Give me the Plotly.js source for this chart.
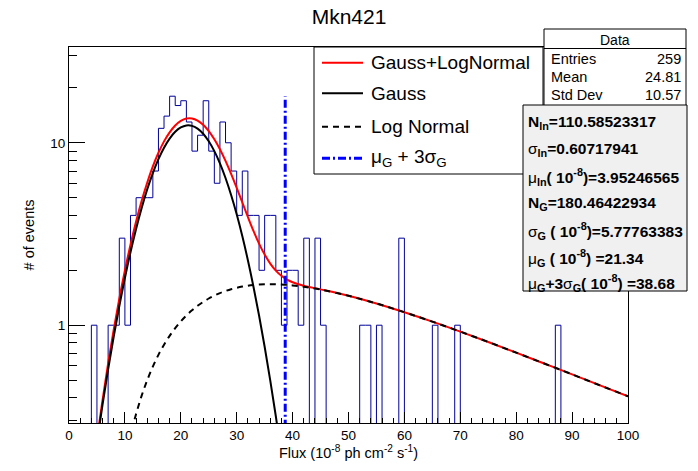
<!DOCTYPE html>
<html>
<head>
<meta charset="utf-8">
<script src="https://cdn.plot.ly/plotly-3.0.1.min.js"></script>
<style>
body { margin: 0; background: #fff; }
#chart { width: 698px; height: 471px; }
</style>
</head>
<body>
<div id="chart"></div>
<script>
// histogram counts, one bin per unit of flux, bins 0-1 ... 99-100
var counts = [
  0, 0, 0, 0, 1, 0, 0, 1, 1, 3,
  1, 4, 5, 5, 5, 7, 12, 14, 18, 16,
  17, 13, 9, 11, 17, 9, 6, 13, 10, 7,
  4, 7, 4, 4, 2, 4, 4, 2, 1, 2,
  2, 1, 3, 0, 3, 1, 0, 0, 0, 0,
  0, 0, 1, 1, 0, 1, 0, 0, 0, 3,
  0, 0, 0, 0, 0, 1, 0, 0, 0, 1,
  0, 0, 0, 0, 0, 0, 0, 0, 0, 0,
  0, 0, 0, 0, 0, 0, 0, 1, 0, 0,
  0, 0, 0, 0, 0, 0, 0, 0, 0, 0
];

// fitted curves
var gaussX = [4, 5, 6, 7, 8, 9, 10, 11, 12, 13, 14, 15, 16, 17, 18, 19, 20, 21,
  22, 23, 24, 25, 26, 27, 28, 29, 30, 31, 32, 33, 34, 35, 36, 37, 38, 39];
var gaussY = [0.138, 0.228, 0.367, 0.573, 0.867, 1.273, 1.816, 2.513, 3.373, 4.396,
  5.560, 6.824, 8.129, 9.397, 10.54, 11.48, 12.13, 12.44, 12.38, 11.96, 11.21,
  10.19, 9.001, 7.712, 6.412, 5.174, 4.053, 3.080, 2.272, 1.626, 1.130, 0.762,
  0.499, 0.317, 0.195, 0.117];

var lognX = [8, 9, 10, 11, 12, 13, 14, 15, 16, 17, 18, 19, 20, 21, 22, 23, 24, 25,
  26, 27, 28, 29, 30, 31, 32, 33, 34, 35, 36, 37, 38, 39, 40, 42, 45, 50, 55,
  60, 65, 70, 75, 80, 85, 90, 95, 100];
var lognY = [0.078, 0.124, 0.181, 0.249, 0.326, 0.411, 0.500, 0.593, 0.688, 0.782,
  0.874, 0.964, 1.050, 1.131, 1.207, 1.278, 1.342, 1.401, 1.453, 1.500, 1.540,
  1.575, 1.604, 1.628, 1.647, 1.661, 1.671, 1.676, 1.678, 1.676, 1.672, 1.664,
  1.653, 1.625, 1.569, 1.450, 1.316, 1.178, 1.046, 0.922, 0.809, 0.707, 0.617,
  0.538, 0.468, 0.408];

var totalX = [5, 6, 7, 8, 9, 10, 11, 12, 13, 14, 15, 16, 17, 18, 19, 20, 21, 22,
  23, 24, 25, 26, 27, 28, 29, 30, 31, 32, 33, 34, 35, 36, 37, 38, 39, 40, 42,
  45, 50, 55, 60, 65, 70, 75, 80, 85, 90, 95, 100];
var totalY = [0.237, 0.389, 0.617, 0.945, 1.397, 1.997, 2.762, 3.699, 4.807, 6.060,
  7.417, 8.817, 10.18, 11.41, 12.44, 13.18, 13.57, 13.59, 13.24, 12.55, 11.59,
  10.45, 9.212, 7.952, 6.749, 5.657, 4.708, 3.919, 3.287, 2.801, 2.438, 2.177,
  1.993, 1.867, 1.780, 1.721, 1.646, 1.572, 1.450, 1.316, 1.178, 1.046, 0.922,
  0.809, 0.707, 0.617, 0.538, 0.468, 0.408];

var muPlus3Sigma = 38.68;

var statNames = ['Entries', 'Mean', 'Std Dev'];
var statValues = ['259', '24.81', '10.57'];

// greek letters are drawn in plain weight, the rest in bold
var fitLines = [
  '<b>N<sub>ln</sub>=110.58523317</b>',
  '\u03c3<b><sub>ln</sub>=0.60717941</b>',
  '\u03bc<b><sub>ln</sub>( 10<sup>-8</sup>)=3.95246565</b>',
  '<b>N<sub>G</sub>=180.46422934</b>',
  '\u03c3<b><sub>G</sub> ( 10<sup>-8</sup>)=5.77763383</b>',
  '\u03bc<b><sub>G</sub> ( 10<sup>-8</sup>) =21.34</b>',
  '\u03bc<b><sub>G</sub>+3</b>\u03c3<b><sub>G</sub>( 10<sup>-8</sup>) =38.68</b>'
];

var legendNames = ['Gauss+LogNormal', 'Gauss', 'Log Normal',
  '\u03bc<sub>G</sub> + 3\u03c3<sub>G</sub>'];

// page geometry
var ML = 69, MT = 47, PW = 559, PH = 376;
function px(x) { return (x - ML) / PW; }
function py(y) { return (MT + PH - y) / PH; }

var FONT = 'Liberation Sans, Arial, Helvetica, sans-serif';
var FLOOR = 0.1; // empty bins are drawn below the frame

var histX = [], histY = [];
for (var i = 0; i < counts.length; i++) {
  histX.push(i);
  histY.push(counts[i] > 0 ? counts[i] : FLOOR);
}
histX.push(counts.length);
histY.push(histY[histY.length - 1]);

var maxCount = Math.max.apply(null, counts);

var data = [
  {
    x: histX, y: histY, mode: 'lines',
    line: {color: '#000099', width: 1, shape: 'hv'},
    hoverinfo: 'none'
  },
  {
    x: totalX, y: totalY, mode: 'lines',
    line: {color: '#ff0000', width: 2, shape: 'spline'},
    hoverinfo: 'none'
  },
  {
    x: gaussX, y: gaussY, mode: 'lines',
    line: {color: '#000000', width: 2, shape: 'spline'},
    hoverinfo: 'none'
  },
  {
    x: lognX, y: lognY, mode: 'lines',
    line: {color: '#000000', width: 2, dash: '6px,5px', shape: 'spline'},
    hoverinfo: 'none'
  },
  {
    x: [muPlus3Sigma, muPlus3Sigma], y: [FLOOR, maxCount], mode: 'lines',
    line: {color: '#0000ff', width: 3, dash: '8px,3px,2px,3px'},
    hoverinfo: 'none'
  }
];

var shapes = [];
var annotations = [];

// legend box
shapes.push({type: 'rect', xref: 'paper', yref: 'paper',
  x0: px(314), x1: px(543), y0: py(174), y1: py(47),
  line: {color: 'black', width: 1}, fillcolor: 'white'});
var legendRows = [62.7, 93.3, 126.7, 158.3];
var legendStyles = [
  {color: '#ff0000', width: 2},
  {color: '#000000', width: 2},
  {color: '#000000', width: 2, dash: '6px,5px'},
  {color: '#0000ff', width: 3, dash: '8px,3px,2px,3px'}
];
legendRows.forEach(function(r, k) {
  shapes.push({type: 'line', xref: 'paper', yref: 'paper',
    x0: px(322), x1: px(363), y0: py(r), y1: py(r), line: legendStyles[k]});
  annotations.push({xref: 'paper', yref: 'paper', x: px(369), y: py(r),
    xanchor: 'left', yanchor: 'middle', showarrow: false,
    text: legendNames[k], font: {family: FONT, size: 19, color: 'black'}});
});

// stats box
shapes.push({type: 'rect', xref: 'paper', yref: 'paper',
  x0: px(544), x1: px(686), y0: py(110), y1: py(29),
  line: {color: 'black', width: 1}, fillcolor: 'white'});
shapes.push({type: 'line', xref: 'paper', yref: 'paper',
  x0: px(544), x1: px(686), y0: py(48.5), y1: py(48.5),
  line: {color: 'black', width: 1}});
annotations.push({xref: 'paper', yref: 'paper', x: px(615), y: py(39.5),
  xanchor: 'center', yanchor: 'middle', showarrow: false,
  text: 'Data', font: {family: FONT, size: 14, color: 'black'}});
var statRows = [59, 77, 95];
statNames.forEach(function(n, k) {
  annotations.push({xref: 'paper', yref: 'paper', x: px(549), y: py(statRows[k]),
    xanchor: 'left', yanchor: 'middle', showarrow: false,
    text: n, font: {family: FONT, size: 14.5, color: 'black'}});
  annotations.push({xref: 'paper', yref: 'paper', x: px(683), y: py(statRows[k]),
    xanchor: 'right', yanchor: 'middle', showarrow: false,
    text: statValues[k], font: {family: FONT, size: 14.5, color: 'black'}});
});

// fit results box
shapes.push({type: 'rect', xref: 'paper', yref: 'paper',
  x0: px(523), x1: px(687), y0: py(291), y1: py(105),
  line: {color: 'black', width: 1}, fillcolor: '#f0f0f0'});
var fitRows = [122, 149.5, 176.5, 203.5, 231, 258, 283];
fitLines.forEach(function(t, k) {
  annotations.push({xref: 'paper', yref: 'paper', x: px(526), y: py(fitRows[k]),
    xanchor: 'left', yanchor: 'middle', showarrow: false,
    text: t, font: {family: FONT, size: 15.5, color: 'black'}});
});

var minorY = [0.3, 0.4, 0.5, 0.6, 0.7, 0.8, 0.9, 2, 3, 4, 5, 6, 7, 8, 9, 20, 30];

var layout = {
  width: 698, height: 471,
  margin: {l: ML, r: 698 - ML - PW, t: MT, b: 471 - MT - PH, pad: 0},
  paper_bgcolor: 'white', plot_bgcolor: 'white',
  showlegend: false,
  font: {family: FONT, color: 'black'},
  title: {text: 'Mkn421', font: {family: FONT, size: 21, color: 'black'},
    x: 0.5, xref: 'container', y: 1 - 17 / 471, yref: 'container', yanchor: 'middle'},
  xaxis: {
    range: [0, 100], tick0: 0, dtick: 10,
    showgrid: false, zeroline: false,
    showline: true, mirror: true, linecolor: 'black', linewidth: 1,
    ticks: 'inside', ticklen: 11, tickwidth: 1, tickcolor: 'black',
    minor: {dtick: 2, ticks: 'inside', ticklen: 5.5, tickcolor: 'black', tickwidth: 1},
    tickfont: {family: FONT, size: 13.5, color: 'black'},
    title: {text: 'Flux (10<sup>-8</sup> ph cm<sup>-2</sup> s<sup>-1</sup>)',
      font: {family: FONT, size: 14.5, color: 'black'}, standoff: 4}
  },
  yaxis: {
    type: 'log', range: [-0.536, 1.525],
    tickmode: 'array', tickvals: [1, 10], ticktext: ['1', '10'],
    showgrid: false, zeroline: false,
    showline: true, mirror: true, linecolor: 'black', linewidth: 1,
    ticks: 'inside', ticklen: 16, tickwidth: 1, tickcolor: 'black',
    minor: {tickmode: 'array', tickvals: minorY, ticks: 'inside', ticklen: 8,
      tickcolor: 'black', tickwidth: 1},
    tickfont: {family: FONT, size: 13.5, color: 'black'},
    title: {text: '# of events', font: {family: FONT, size: 14.5, color: 'black'},
      standoff: 12}
  },
  shapes: shapes,
  annotations: annotations
};

Plotly.newPlot('chart', data, layout, {displayModeBar: false, staticPlot: true});
</script>
</body>
</html>
